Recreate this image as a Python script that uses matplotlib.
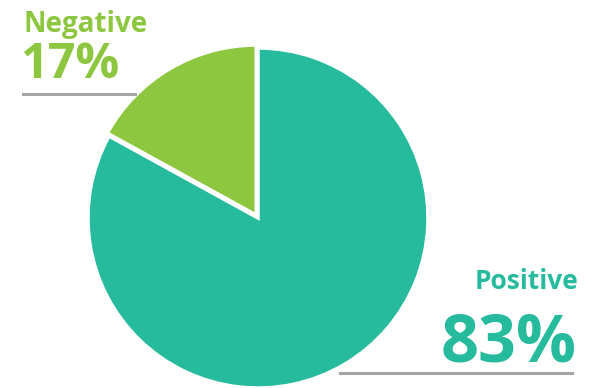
import matplotlib
matplotlib.use('Agg')
import matplotlib.pyplot as plt
from matplotlib.lines import Line2D

labels = ['Negative', 'Positive']
values = [17, 83]
colors = ['#8DC63F', '#25BB9C']
line_col = '#A8A4A4'

fig = plt.figure(figsize=(6.02, 3.88), dpi=100)
ax = fig.add_axes([88/602, 0, 340/602, 340/388])
ax.pie(values, colors=colors, startangle=90, counterclock=True,
       explode=[0.02, 0], radius=1,
       wedgeprops=dict(edgecolor='white', linewidth=2.5))
ax.set_xlim(-1, 1); ax.set_ylim(-1, 1)
ax.set_aspect('equal')
ax.axis('off')
for p in ax.patches:
    p.set_clip_on(False)

font = 'Open Sans'
# Negative label (top left)
fig.text(24/602, 1 - 32/388, labels[0], color=colors[0], fontsize=20,
         fontweight='bold', family=font, ha='left', va='baseline')
fig.text(20/602, 1 - 78/388, f'{values[0]}%', color=colors[0], fontsize=35,
         fontweight='bold', family=font, ha='left', va='baseline')
fig.add_artist(Line2D([23/602, 135/602], [1 - 94/388] * 2, color=line_col, lw=2.2))

# Positive label (bottom right)
fig.text(578/602, 1 - 289/388, labels[1], color=colors[1], fontsize=19,
         fontweight='bold', family=font, ha='right', va='baseline')
fig.text(577/602, 1 - 362/388, f'{values[1]}%', color=colors[1], fontsize=48,
         fontweight='bold', family=font, ha='right', va='baseline')
fig.add_artist(Line2D([340/602, 572/602], [1 - 373/388] * 2, color=line_col, lw=2.2))

plt.savefig('out.png', dpi=100)
plt.close()
